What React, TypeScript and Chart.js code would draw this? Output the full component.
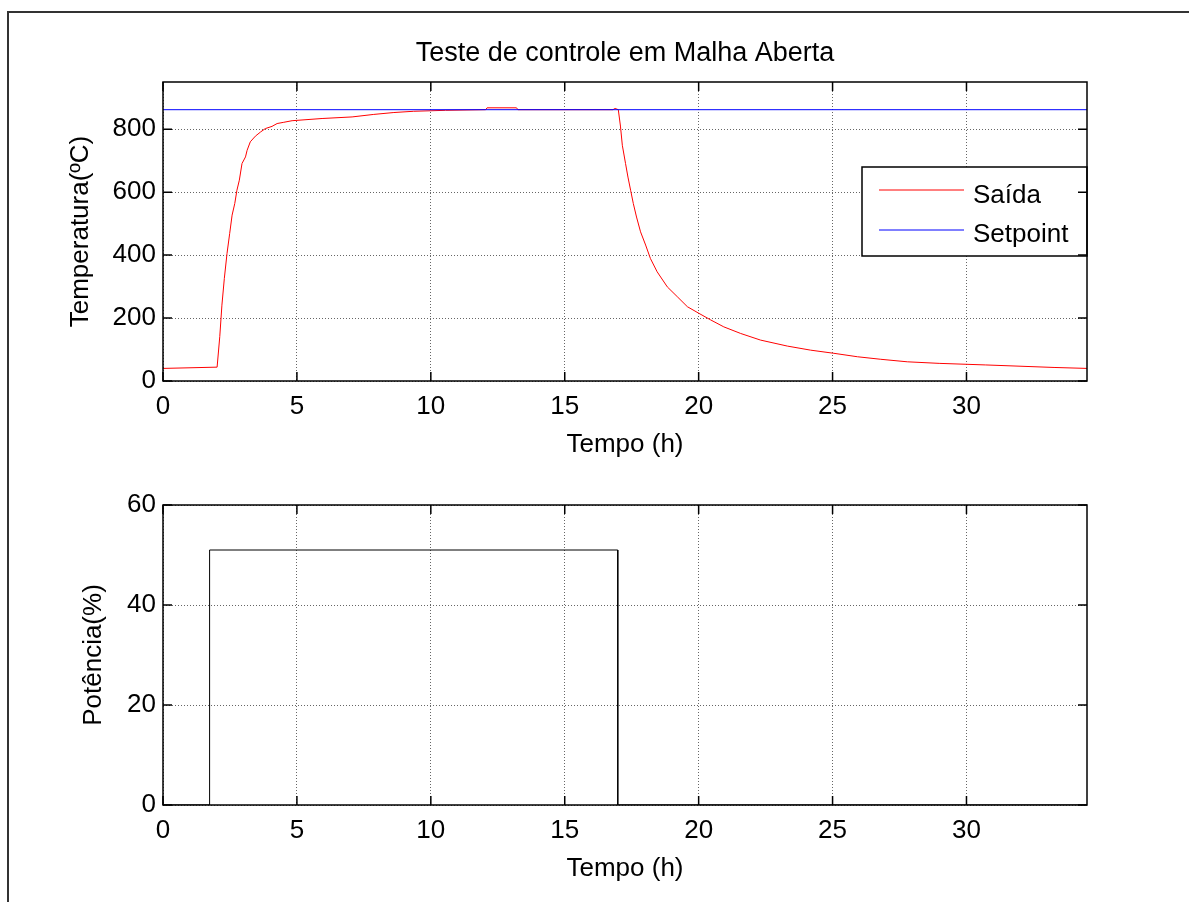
import React, { useEffect, useRef } from 'react';
import { Chart, registerables } from 'chart.js';

Chart.register(...registerables);

const FONT = '"Liberation Sans", Arial, Helvetica, sans-serif';

// Measured furnace temperature (open-loop test)
const tempHours = [
  0, 2.02, 2.12, 2.2, 2.29, 2.39, 2.49, 2.58, 2.68, 2.76, 2.85, 2.95, 3.08, 3.14, 3.26,
  3.45, 3.64, 3.82, 4.07, 4.26, 4.51, 4.82, 5.94, 7.06, 7.87, 8.62, 9.36, 10.55, 12.05,
  12.1, 13.2, 13.25, 16.8, 16.88, 17.0, 17.08, 17.15, 17.27, 17.36, 17.46, 17.56, 17.68,
  17.83, 18.02, 18.2, 18.45, 18.83, 19.2, 19.58, 20.01, 20.45, 20.94, 21.57, 22.31, 23.31,
  24.18, 25.05, 25.93, 26.8, 27.79, 28.98, 30.72, 33.27, 34.5,
];
const tempC = [
  40, 44, 141, 241, 326, 405, 469, 527, 564, 606, 638, 691, 712, 733, 760,
  778, 791, 802, 809, 818, 822, 827, 834, 839, 847, 853, 857, 860, 862,
  868, 868, 862, 862, 866, 862, 810, 749, 691, 648, 606, 564, 521,
  474, 432, 389, 347, 299, 268, 236, 215, 194, 172, 151, 130, 111,
  98, 88, 77, 69, 61, 56, 51, 43, 40,
];

// Temperature setpoint
const setpointHours = [0, 34.5];
const setpointC = [862, 862];

// Heater power command
const powerHours = [0, 1.74, 1.74, 16.98, 16.98, 34.5];
const powerPct = [0, 0, 51, 51, 0, 0];

// Axis limits and tick values
const X_MAX = 34.5;
const TEMP_MAX = 950;
const POWER_MAX = 60;
const timeTicks = [0, 5, 10, 15, 20, 25, 30];
const tempTicks = [0, 200, 400, 600, 800];
const powerTicks = [0, 20, 40, 60];

const toPoints = (xs: number[], ys: number[]) => xs.map((x, i) => ({ x, y: ys[i] }));

// Boxed axes with inward ticks, labels and an optional legend box
const boxedAxes = {
  id: 'boxedAxes',
  afterDraw(chart: any, _args: any, opts: any) {
    const { ctx, chartArea: a, scales } = chart;
    const xs = scales.x;
    const ys = scales.y;
    const L = 9;
    ctx.save();

    // legend
    if (opts.legend) {
      const lg = opts.legend;
      const left = a.right - lg.width;
      const top = a.top + lg.top;
      ctx.fillStyle = '#fff';
      ctx.fillRect(left, top, lg.width, lg.height);
      ctx.strokeStyle = '#000';
      ctx.lineWidth = 1.5;
      ctx.strokeRect(left, top, lg.width, lg.height);
      const items = chart.data.datasets.filter((d: any) => d.label);
      items.forEach((d: any, i: number) => {
        const ly = top + lg.lineY[i];
        ctx.strokeStyle = d.borderColor;
        ctx.lineWidth = 1;
        ctx.beginPath();
        ctx.moveTo(left + 17, ly);
        ctx.lineTo(left + 102, ly);
        ctx.stroke();
        ctx.fillStyle = '#000';
        ctx.font = `26px ${FONT}`;
        ctx.textAlign = 'left';
        ctx.textBaseline = 'alphabetic';
        ctx.fillText(d.label, left + 111, top + lg.textY[i]);
      });
    }

    // inward ticks on all four sides
    ctx.strokeStyle = '#000';
    ctx.lineWidth = 1.5;
    ctx.beginPath();
    xs.ticks.forEach((t: any) => {
      const px = xs.getPixelForValue(t.value);
      ctx.moveTo(px, a.bottom);
      ctx.lineTo(px, a.bottom - L);
      ctx.moveTo(px, a.top);
      ctx.lineTo(px, a.top + L);
    });
    ys.ticks.forEach((t: any) => {
      const py = ys.getPixelForValue(t.value);
      ctx.moveTo(a.left, py);
      ctx.lineTo(a.left + L, py);
      ctx.moveTo(a.right, py);
      ctx.lineTo(a.right - L, py);
    });
    ctx.stroke();
    ctx.strokeRect(a.left, a.top, a.right - a.left, a.bottom - a.top);

    // texts
    const cx = (a.left + a.right) / 2;
    ctx.fillStyle = '#000';
    ctx.textAlign = 'center';
    ctx.textBaseline = 'alphabetic';
    if (opts.title) {
      ctx.font = `27px ${FONT}`;
      ctx.fillText(opts.title, cx, a.top - opts.titleGap);
    }
    ctx.font = `26px ${FONT}`;
    ctx.fillText(opts.xLabel, cx, a.bottom + opts.xLabelGap);
    ctx.save();
    ctx.translate(a.left - opts.yLabelGap, (a.top + a.bottom) / 2);
    ctx.rotate(-Math.PI / 2);
    ctx.textBaseline = 'middle';
    ctx.fillText(opts.yLabel, 0, 0);
    ctx.restore();

    ctx.restore();
  },
};

function makeScales(yMax: number, yTickVals: number[], yWidth: number) {
  const grid = { color: 'rgba(0,0,0,0.6)', lineWidth: 1, drawTicks: false };
  const border = { display: false, dash: [1, 2] };
  const tickFont = { family: FONT, size: 26 };
  return {
    x: {
      type: 'linear',
      min: 0,
      max: X_MAX,
      grid,
      border,
      afterBuildTicks: (s: any) => {
        s.ticks = timeTicks.map((v) => ({ value: v }));
      },
      afterFit: (s: any) => {
        s.height = 50;
      },
      ticks: { padding: 10, autoSkip: false, maxRotation: 0, font: tickFont, color: '#000' },
    },
    y: {
      type: 'linear',
      min: 0,
      max: yMax,
      grid,
      border,
      afterBuildTicks: (s: any) => {
        s.ticks = yTickVals.map((v) => ({ value: v }));
      },
      afterFit: (s: any) => {
        s.width = yWidth;
      },
      ticks: { padding: 7, font: tickFont, color: '#000' },
    },
  };
}

function ChartCanvas({ config, top, height }: { config: any; top: number; height: number }) {
  const ref = useRef<HTMLCanvasElement | null>(null);
  useEffect(() => {
    if (!ref.current) return;
    const chart = new Chart(ref.current, config);
    return () => chart.destroy();
  }, [config]);
  return (
    <canvas
      ref={ref}
      width={1189}
      height={height}
      style={{ position: 'absolute', left: 0, top, width: 1189, height, display: 'block' }}
    />
  );
}

const temperatureConfig = {
  type: 'line',
  data: {
    datasets: [
      {
        label: 'Saída',
        data: toPoints(tempHours, tempC),
        borderColor: '#ff0000',
        borderWidth: 1,
        pointRadius: 0,
        tension: 0,
        fill: false,
        order: 1,
      },
      {
        label: 'Setpoint',
        data: toPoints(setpointHours, setpointC),
        borderColor: '#0000ff',
        borderWidth: 1,
        pointRadius: 0,
        tension: 0,
        fill: false,
        order: 0,
      },
    ],
  },
  options: {
    responsive: false,
    animation: false,
    events: [],
    layout: { padding: { left: 103, right: 102, top: 82, bottom: 39 } },
    scales: makeScales(TEMP_MAX, tempTicks, 60),
    plugins: {
      legend: { display: false },
      tooltip: { enabled: false },
      boxedAxes: {
        title: 'Teste de controle em Malha Aberta',
        titleGap: 21,
        xLabel: 'Tempo (h)',
        xLabelGap: 71,
        yLabel: 'Temperatura(ºC)',
        yLabelGap: 82,
        legend: { width: 225, height: 89, top: 85, lineY: [23, 63], textY: [36, 75] },
      },
    },
  },
  plugins: [boxedAxes],
};

const powerConfig = {
  type: 'line',
  data: {
    datasets: [
      {
        data: toPoints(powerHours, powerPct),
        borderColor: '#000000',
        borderWidth: 1,
        pointRadius: 0,
        tension: 0,
        fill: false,
      },
    ],
  },
  options: {
    responsive: false,
    animation: false,
    events: [],
    layout: { padding: { left: 103, right: 102, top: 35, bottom: 47 } },
    scales: makeScales(POWER_MAX, powerTicks, 60),
    plugins: {
      legend: { display: false },
      tooltip: { enabled: false },
      boxedAxes: {
        xLabel: 'Tempo (h)',
        xLabelGap: 71,
        yLabel: 'Potência(%)',
        yLabelGap: 69,
      },
    },
  },
  plugins: [boxedAxes],
};

export default function App() {
  return (
    <div
      style={{
        position: 'absolute',
        left: 0,
        top: 0,
        width: 1189,
        height: 902,
        overflow: 'hidden',
        background: '#fff',
      }}
    >
      <div
        style={{
          position: 'absolute',
          left: 7,
          top: 11,
          width: 1182,
          height: 891,
          boxSizing: 'border-box',
          borderLeft: '2px solid #333',
          borderTop: '2px solid #333',
        }}
      />
      <ChartCanvas config={temperatureConfig} top={0} height={470} />
      <ChartCanvas config={powerConfig} top={470} height={432} />
    </div>
  );
}
